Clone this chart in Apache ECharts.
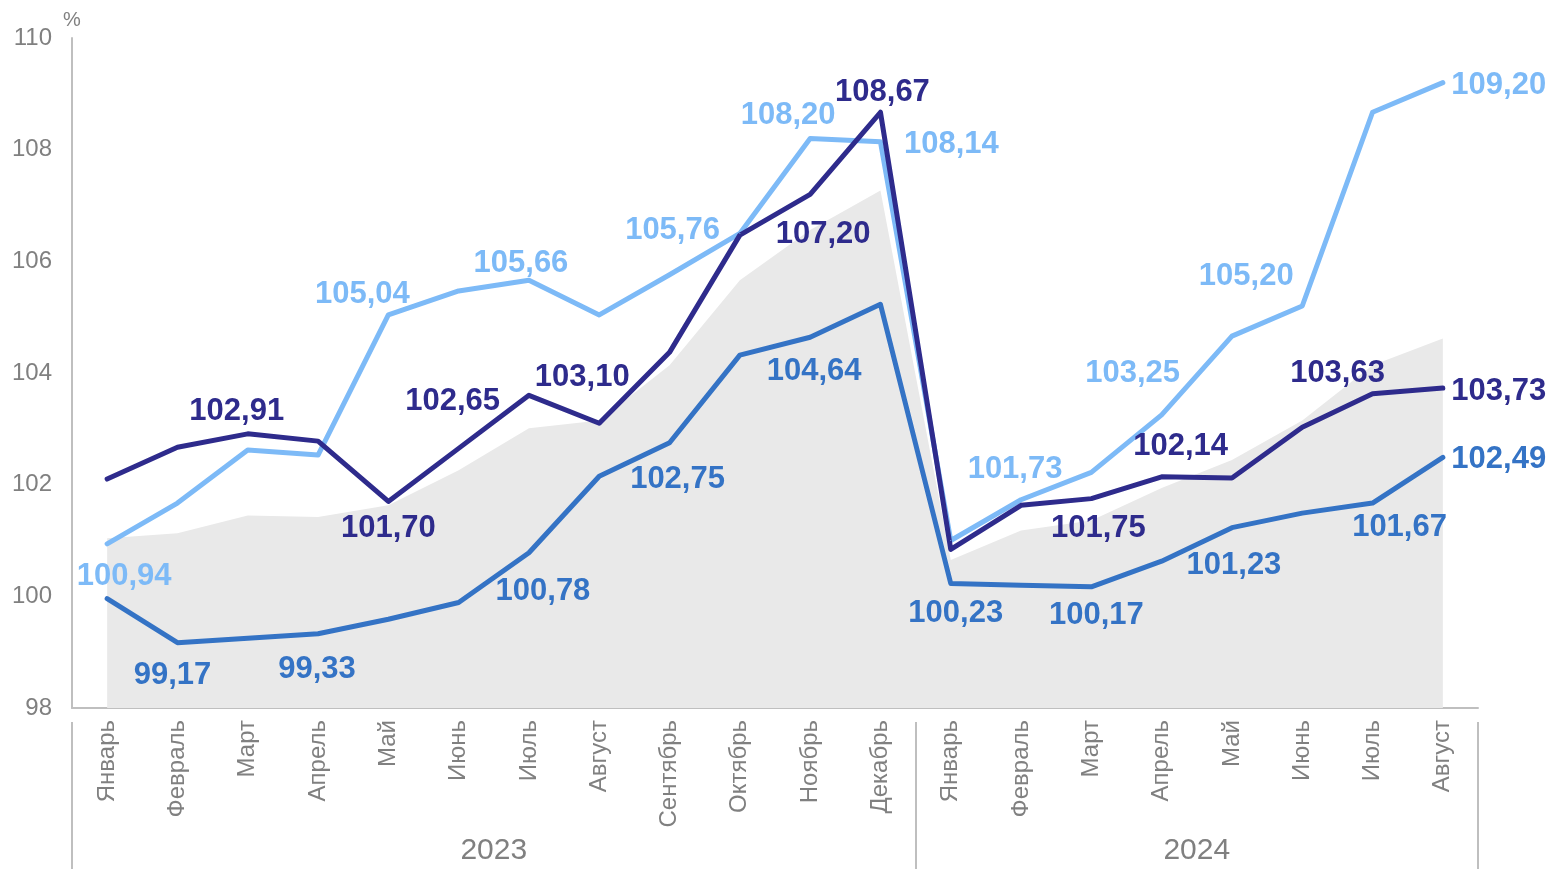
<!DOCTYPE html>
<html>
<head>
<meta charset="utf-8">
<script src="https://cdn.jsdelivr.net/npm/echarts@6/dist/echarts.min.js"></script>
<style>
    html, body {margin: 0; padding: 0; background: #fff;}
    #chart {width: 1554px; height: 869px;}
</style>
</head>
<body>
<div id="chart"></div>
<script>
// месяцы и годы
const months = ['Январь', 'Февраль', 'Март', 'Апрель', 'Май', 'Июнь', 'Июль', 'Август', 'Сентябрь', 'Октябрь', 'Ноябрь', 'Декабрь',
    'Январь', 'Февраль', 'Март', 'Апрель', 'Май', 'Июнь', 'Июль', 'Август'];
const years = ['2023', '2024'];
const yearMonths = [12, 8];
const yTicks = [98, 100, 102, 104, 106, 108, 110];

// ряды
const darkValues = [102.10, 102.67, 102.91, 102.78, 101.70, 102.65, 103.60, 103.10, 104.37, 106.47, 107.20, 108.67,
    100.84, 101.63, 101.75, 102.14, 102.12, 103.03, 103.63, 103.73];
const lightValues = [100.94, 101.67, 102.62, 102.53, 105.04, 105.47, 105.66, 105.04, 105.76, 106.50, 108.20, 108.14,
    101.00, 101.73, 102.22, 103.25, 104.66, 105.20, 108.67, 109.20];
const midValues = [99.96, 99.17, 99.25, 99.33, 99.59, 99.89, 100.78, 102.15, 102.75, 104.32, 104.64, 105.23,
    100.23, 100.20, 100.17, 100.63, 101.23, 101.49, 101.67, 102.49];
const areaValues = [101.04, 101.13, 101.45, 101.42, 101.63, 102.26, 103.01, 103.15, 104.14, 105.66, 106.56, 107.27,
    100.65, 101.18, 101.36, 101.94, 102.44, 103.15, 104.14, 104.62];

// какие точки подписаны и где: [позиция, dx, dy]
const darkLabels = {2: ['top', -11, -2], 4: ['bottom', 0, 7], 5: ['top', -6, -27], 7: ['top', -17, -26],
    10: ['bottom', 13, 20], 11: ['top', 2, 0], 14: ['bottom', 7, 10], 15: ['top', 19, -10],
    18: ['top', -35, 0], 19: ['right', 4, 3]};
const lightLabels = {0: ['bottom', 17, 13], 4: ['top', -26, 0], 6: ['top', -8, 3], 8: ['top', 3, -24],
    10: ['top', -22, -3], 11: ['right', 19, 3], 13: ['top', -6, -10], 15: ['top', -29, -21],
    17: ['top', -56, -10], 19: ['right', 4, 3]};
const midLabels = {1: ['bottom', -5, 13], 3: ['bottom', -1, 16], 6: ['bottom', 14, 19], 8: ['bottom', 8, 17],
    10: ['bottom', 4, 14], 12: ['bottom', 5, 10], 14: ['bottom', 5, 9], 16: ['bottom', 2, 18],
    18: ['bottom', 27, 4], 19: ['right', 4, 2]};

const DARK = '#2E2B8C';
const LIGHT = '#7DBAF7';
const MID = '#3473C5';
const GREY = '#808080';
const FONT = '"Liberation Sans", Arial, sans-serif';

function fmt(v) {
    return v.toFixed(2).replace('.', ',');
}

function buildData(values, labels, color) {
    return values.map((v, i) => {
        const cfg = labels[i];
        if (!cfg) return v;
        return {
            value: v,
            label: {
                show: true,
                position: cfg[0],
                distance: 4,
                color: color,
                fontFamily: FONT,
                fontWeight: 'bold',
                fontSize: 31,
                formatter: p => fmt(p.value)
            }
        };
    });
}

function lineSeries(name, values, labels, color) {
    return {
        name: name,
        type: 'line',
        data: buildData(values, labels, color),
        symbol: 'circle',
        symbolSize: 1,
        showSymbol: true,
        showAllSymbol: true,
        lineStyle: {color: color, width: 5, cap: 'round', join: 'round'},
        itemStyle: {color: color},
        label: {show: false},
        labelLayout: function (p) {
            const cfg = labels[p.dataIndex];
            return cfg ? {dx: cfg[1], dy: cfg[2], hideOverlap: false} : {};
        },
        z: 3
    };
}

// центры и границы годов на второй оси
const yearBounds = [-0.5];
const yearCenters = [];
yearMonths.forEach(n => {
    const start = yearBounds[yearBounds.length - 1];
    yearCenters.push(start + n / 2);
    yearBounds.push(start + n);
});

let chart = echarts.init(document.getElementById('chart'));
let option = {
    animation: false,
    grid: {left: 72, right: 76, top: 38, bottom: 161, containLabel: false},
    xAxis: [
        {
            type: 'category',
            data: months,
            boundaryGap: true,
            axisLine: {lineStyle: {color: '#BFBFBF', width: 2}},
            axisTick: {show: false},
            axisLabel: {
                rotate: 90,
                margin: 12,
                interval: 0,
                color: GREY,
                fontFamily: FONT,
                fontSize: 24
            }
        },
        {
            type: 'value',
            position: 'bottom',
            offset: 14,
            min: -0.5,
            max: 19.5,
            axisLine: {show: false},
            splitLine: {show: false},
            axisTick: {
                show: true,
                customValues: yearBounds,
                length: 150,
                lineStyle: {color: '#BFBFBF', width: 2}
            },
            axisLabel: {
                customValues: yearCenters,
                margin: 114,
                color: GREY,
                fontFamily: FONT,
                fontSize: 30,
                formatter: v => years[yearCenters.indexOf(v)] || ''
            }
        }
    ],
    yAxis: {
        type: 'value',
        min: yTicks[0],
        max: yTicks[yTicks.length - 1],
        interval: 2,
        name: '%',
        nameGap: 8,
        nameTextStyle: {color: GREY, fontFamily: FONT, fontSize: 20},
        axisLine: {show: true, onZero: false, lineStyle: {color: '#BFBFBF', width: 2}},
        axisTick: {show: false},
        splitLine: {show: false},
        axisLabel: {color: GREY, fontFamily: FONT, fontSize: 24, margin: 20}
    },
    series: [
        {
            name: 'area',
            type: 'line',
            data: areaValues,
            symbol: 'none',
            silent: true,
            lineStyle: {width: 0},
            areaStyle: {color: '#E9E9E9', opacity: 1, origin: 'start'},
            z: 1
        },
        lineSeries('mid', midValues, midLabels, MID),
        lineSeries('light', lightValues, lightLabels, LIGHT),
        lineSeries('dark', darkValues, darkLabels, DARK)
    ]
};
chart.setOption(option);

window.addEventListener('resize', function () {
    chart.resize();
});
</script>
</body>
</html>
